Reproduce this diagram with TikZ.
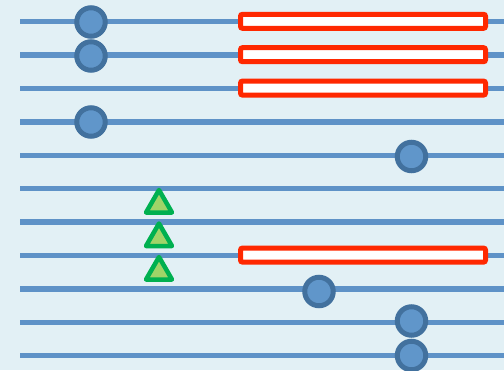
\documentclass[tikz,border=0pt]{standalone}
\definecolor{bgc}{RGB}{226,240,245}
\definecolor{linec}{RGB}{94,146,199}
\definecolor{dotfill}{RGB}{96,150,202}
\definecolor{dotdraw}{RGB}{66,113,158}
\definecolor{redc}{RGB}{255,40,0}
\definecolor{greenc}{RGB}{0,176,80}
\definecolor{greenfill}{RGB}{160,212,104}
\begin{document}
\begin{tikzpicture}[x=1pt,y=-1pt,
  wire/.style={draw=linec,line width=5.5pt},
  dot/.style={circle,draw=dotdraw,fill=dotfill,line width=5pt,minimum size=28.5pt,inner sep=0pt},
  bar/.style={draw=redc,fill=white,line width=5pt,rounded corners=2pt},
  tri/.style={draw=greenc,fill=greenfill,line width=4.5pt,line join=round}]
\fill[bgc] (0,0) rectangle (504,370);
\useasboundingbox (0,0) rectangle (504,370);
\foreach \k in {0,...,10}{
  \coordinate (ws\k) at (20,21.7+33.4*\k);
  \coordinate (we\k) at (504,21.7+33.4*\k);
  \draw[wire] (ws\k) -- (we\k);
}
% red bars
\draw[bar] (240.5,14.3) rectangle (485.5,28.3);
\draw[bar] (240.5,47.7) rectangle (485.5,61.7);
\draw[bar] (240.5,81.1) rectangle (485.5,95.1);
\draw[bar] (240.5,248.1) rectangle (485.5,262.1);
% circles
\node[dot] (c1) at (91,22) {};
\node[dot] (c2) at (91,56) {};
\node[dot] (c3) at (91,122) {};
\node[dot] (c4) at (411.5,156.5) {};
\node[dot] (c5) at (319,291.5) {};
\node[dot] (c6) at (411.5,321) {};
\node[dot] (c7) at (411.5,355.5) {};
% triangles
\foreach \y in {190,223.5,257}{
  \draw[tri] (159,\y) -- (172,\y+22.5) -- (146,\y+22.5) -- cycle;
}
\end{tikzpicture}
\end{document}
